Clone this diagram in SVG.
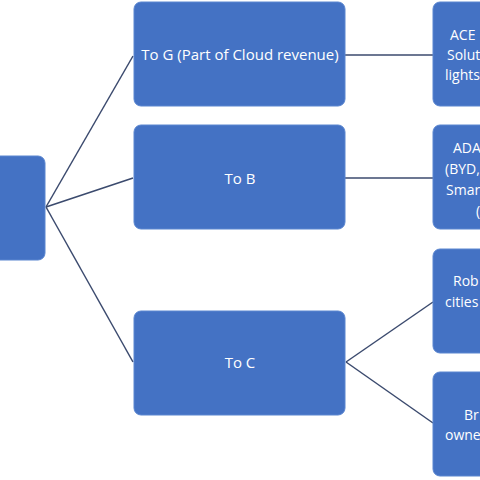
<svg xmlns="http://www.w3.org/2000/svg" width="480" height="480" viewBox="0 0 480 480">
<style>
.node{fill:#4472c4;stroke:#5a86d0;stroke-width:1}
.t{font-family:"Open Sans","Liberation Sans",sans-serif;font-size:14px;fill:#ffffff;dominant-baseline:central}
.m{font-size:15px;text-anchor:middle}
.edge{stroke:#3b4a6e;stroke-width:1.5;fill:none}
</style>
<rect width="480" height="480" fill="#ffffff"/>
<g id="connectors">
<line class="edge" x1="46" y1="207" x2="133" y2="56"/>
<line class="edge" x1="46" y1="207" x2="133" y2="178"/>
<line class="edge" x1="46" y1="207" x2="133" y2="362"/>
<line class="edge" x1="345" y1="55" x2="433" y2="55"/>
<line class="edge" x1="345" y1="178" x2="433" y2="178"/>
<line class="edge" x1="346" y1="362" x2="433" y2="302"/>
<line class="edge" x1="346" y1="362" x2="433" y2="423"/>
</g>
<g id="root"><rect class="node" x="-12" y="156" width="57" height="104" rx="7"/></g>
<g id="toG"><rect class="node" x="134" y="2" width="211" height="104" rx="7"/><text class="t m" x="240" y="54">To G (Part of Cloud revenue)</text></g>
<g id="toB"><rect class="node" x="134" y="125" width="211" height="104" rx="7"/><text class="t m" x="240" y="178">To B</text></g>
<g id="toC"><rect class="node" x="134" y="311" width="211" height="104" rx="7"/><text class="t m" x="240" y="362">To C</text></g>
<g id="ace"><rect class="node" x="433" y="2" width="60" height="104" rx="7"/>
<text class="t" x="450" y="34">ACE</text><text class="t" x="447" y="54">Solut</text><text class="t" x="445" y="74">lights</text></g>
<g id="adas"><rect class="node" x="433" y="125" width="60" height="104" rx="7"/>
<text class="t" x="453" y="147">ADA</text><text class="t" x="445" y="168">(BYD,</text><text class="t" x="446" y="189">Smar</text><text class="t" x="476" y="210">(</text></g>
<g id="robo"><rect class="node" x="433" y="249" width="60" height="104" rx="7"/>
<text class="t" x="453" y="280">Rob</text><text class="t" x="445" y="301">cities</text></g>
<g id="brand"><rect class="node" x="433" y="372" width="60" height="104" rx="7"/>
<text class="t" x="464" y="414">Br</text><text class="t" x="445" y="434">owne</text></g>
</svg>
